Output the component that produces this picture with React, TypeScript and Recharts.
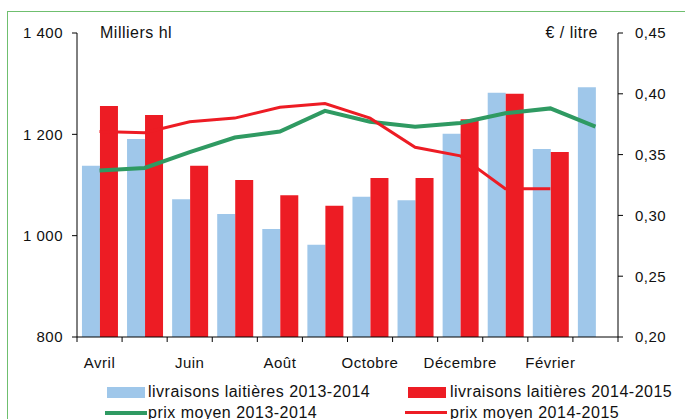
import { Bar, ComposedChart, Line, XAxis, YAxis } from 'recharts';

const months = ['Avril', 'Mai', 'Juin', 'Juillet', 'Août', 'Septembre', 'Octobre', 'Novembre', 'Décembre', 'Janvier', 'Février', 'Mars'];
const livraisons1314 = [1138, 1191, 1072, 1043, 1013, 982, 1077, 1070, 1201, 1282, 1171, 1293];
const livraisons1415 = [1256, 1238, 1138, 1110, 1080, 1059, 1114, 1114, 1230, 1280, 1165, null];
const prix1314 = [0.337, 0.339, 0.352, 0.364, 0.369, 0.386, 0.377, 0.373, 0.376, 0.384, 0.388, 0.373];
const prix1415 = [0.369, 0.368, 0.377, 0.38, 0.389, 0.392, 0.38, 0.356, 0.349, 0.322, 0.322, null];
const leftTicks = [800, 1000, 1200, 1400];
const rightTicks = [0.2, 0.25, 0.3, 0.35, 0.4, 0.45];

const data = months.map((m, i) => ({
  month: m,
  l1314: livraisons1314[i],
  l1415: livraisons1415[i],
  p1314: prix1314[i],
  p1415: prix1415[i],
}));

const W = 685;
const H = 419;
const LEFT_W = 77;
const RIGHT_W = 67;
const BAND = (W - LEFT_W - RIGHT_W) / months.length;

const BLUE = '#9fc7ea';
const RED = '#ed1c24';
const GREEN = '#2f9a62';
const FONT = '"Liberation Sans", Arial, sans-serif';

const tickStyle = { fontSize: 15, fill: '#111', fontFamily: FONT, letterSpacing: 0.5 };

const fmtLeft = (v: number) =>
  v >= 1000 ? `${Math.floor(v / 1000)} ${String(v % 1000).padStart(3, '0')}` : String(v);
const fmtRight = (v: number) => v.toFixed(2).replace('.', ',');

function MonthTick(props: any) {
  const { x, y, payload, index } = props;
  const last = index === months.length - 1;
  return (
    <g>
      <line x1={x - BAND / 2} x2={x - BAND / 2} y1={y} y2={y + 5} stroke="#000" />
      {last && <line x1={x + BAND / 2} x2={x + BAND / 2} y1={y} y2={y + 5} stroke="#000" />}
      {index % 2 === 0 && (
        <text x={x} y={y + 31} textAnchor="middle" {...tickStyle}>
          {payload.value}
        </text>
      )}
    </g>
  );
}

const legendText = {
  position: 'absolute' as const,
  fontSize: 16,
  fontFamily: FONT,
  letterSpacing: 0.5,
  color: '#111',
  lineHeight: '16px',
  whiteSpace: 'nowrap' as const,
};

export default function App() {
  return (
    <div
      style={{
        position: 'absolute',
        left: 0,
        top: 0,
        width: W,
        height: H,
        overflow: 'hidden',
        background: '#fff',
        fontFamily: FONT,
      }}
    >
      <div
        style={{
          position: 'absolute',
          left: 7,
          top: 11,
          width: 720,
          height: 450,
          border: '1.5px solid #6fbf6f',
        }}
      />
      <ComposedChart
        width={W}
        height={H}
        data={data}
        margin={{ top: 33, right: 0, left: 0, bottom: 0 }}
        barCategoryGap="11%"
        barGap={0}
        style={{ position: 'absolute', left: 0, top: 0 }}
      >
        <XAxis
          dataKey="month"
          interval={0}
          height={82}
          tickLine={false}
          tickSize={0}
          tickMargin={0}
          axisLine={{ stroke: '#000' }}
          tick={<MonthTick />}
        />
        <YAxis
          yAxisId="left"
          width={LEFT_W}
          domain={[800, 1400]}
          ticks={leftTicks}
          tickFormatter={fmtLeft}
          tickSize={5}
          tickMargin={9}
          axisLine={{ stroke: '#000' }}
          tickLine={{ stroke: '#000' }}
          tick={tickStyle}
        />
        <YAxis
          yAxisId="right"
          orientation="right"
          width={RIGHT_W}
          domain={[0.2, 0.45]}
          ticks={rightTicks}
          tickFormatter={fmtRight}
          tickSize={5}
          tickMargin={12}
          axisLine={{ stroke: '#000' }}
          tickLine={{ stroke: '#000' }}
          tick={tickStyle}
        />
        <Bar yAxisId="left" dataKey="l1314" fill={BLUE} isAnimationActive={false} />
        <Bar yAxisId="left" dataKey="l1415" fill={RED} isAnimationActive={false} />
        <Line
          yAxisId="right"
          dataKey="p1314"
          stroke={GREEN}
          strokeWidth={4}
          dot={false}
          activeDot={false}
          isAnimationActive={false}
        />
        <Line
          yAxisId="right"
          dataKey="p1415"
          stroke={RED}
          strokeWidth={3}
          dot={false}
          activeDot={false}
          isAnimationActive={false}
        />
      </ComposedChart>

      <div style={{ ...legendText, left: 100, top: 25 }}>Milliers hl</div>
      <div style={{ ...legendText, right: W - 598, top: 25 }}>€ / litre</div>

      <div style={{ position: 'absolute', left: 107, top: 387, width: 38, height: 11, background: BLUE }} />
      <div style={{ ...legendText, left: 148, top: 384 }}>livraisons laitières 2013-2014</div>
      <div style={{ position: 'absolute', left: 408, top: 387, width: 38, height: 11, background: RED }} />
      <div style={{ ...legendText, left: 450, top: 384 }}>livraisons laitières 2014-2015</div>

      <div style={{ position: 'absolute', left: 105, top: 411, width: 42, height: 4, background: GREEN }} />
      <div style={{ ...legendText, left: 148, top: 405 }}>prix moyen 2013-2014</div>
      <div style={{ position: 'absolute', left: 405, top: 411, width: 42, height: 3, background: RED }} />
      <div style={{ ...legendText, left: 450, top: 405 }}>prix moyen 2014-2015</div>
    </div>
  );
}
